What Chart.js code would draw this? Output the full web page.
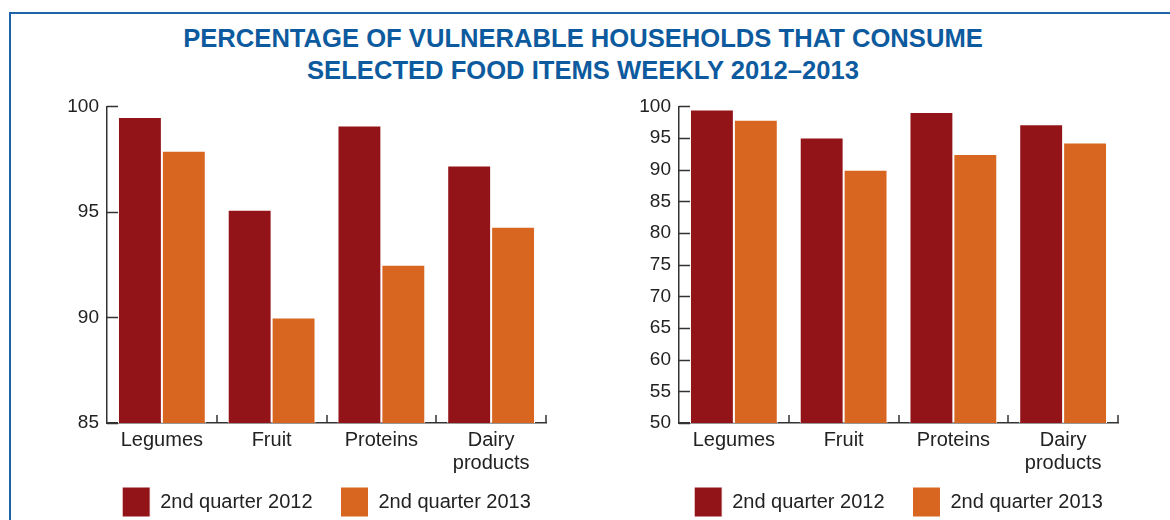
<!DOCTYPE html>
<html lang="en">
<head>
  <meta charset="UTF-8">
  <title>Vulnerable households food consumption</title>
  <script src="https://cdn.jsdelivr.net/npm/chart.js"></script>
  <style>
    body { margin: 0; width: 1170px; height: 520px; background: #fff; position: relative; overflow: hidden; font-family: "Liberation Sans", Arial, sans-serif; }
    .frame { position: absolute; left: 9px; top: 12px; width: 1200px; height: 600px; border-left: 2px solid #1d65a8; border-top: 2px solid #1d65a8; }
    .title { position: absolute; left: 0; width: 1166px; top: 22px; text-align: center; color: #0d5b9e; font-weight: bold; font-size: 25.6px; line-height: 32px; }
    .box { position: absolute; top: 87px; width: 533px; height: 440px; }
  </style>
</head>
<body>
  <div class="frame"></div>
  <div class="title">PERCENTAGE OF VULNERABLE HOUSEHOLDS THAT CONSUME<br>SELECTED FOOD ITEMS WEEKLY 2012–2013</div>

  <div class="box" style="left:60px"><canvas id="leftChart"></canvas></div>
  <div class="box" style="left:632px"><canvas id="rightChart"></canvas></div>

  <script>
    // data
    const categories = ['Legumes', 'Fruit', 'Proteins', ['Dairy', 'products']];
    const seriesNames = ['2nd quarter 2012', '2nd quarter 2013'];
    const q2012 = [99.5, 95.1, 99.1, 97.2];
    const q2013 = [97.9, 90.0, 92.5, 94.3];
    const leftRange = [85, 100];
    const rightRange = [50, 100];
    const tickStep = 5;

    const colors = ['#931418', '#d86621'];
    const textColor = '#222';
    const fontFamily = '"Liberation Sans", Arial, sans-serif';

    // ticks drawn inward, like the original
    const innerTicks = {
      id: 'innerTicks',
      afterLayout(chart) {
        // the x labels run into the legend band, so don't clip them
        chart.scales.x.bottom = chart.scales.x.top + 60;
      },
      afterDatasetsDraw(chart) {
        const { ctx, chartArea, scales } = chart;
        ctx.save();
        ctx.strokeStyle = '#333';
        ctx.lineWidth = 1.5;
        ctx.beginPath();
        scales.y.ticks.forEach((t, i) => {
          const y = Math.round(scales.y.getPixelForTick(i)) + 0.5;
          ctx.moveTo(chartArea.left, y);
          ctx.lineTo(chartArea.left + 11, y);
        });
        for (let i = 1; i <= categories.length; i++) {
          const x = Math.round(scales.x.getPixelForValue(i - 0.5));
          ctx.moveTo(x, chartArea.bottom);
          ctx.lineTo(x, chartArea.bottom - 8);
        }
        ctx.stroke();
        ctx.restore();
      }
    };

    function makeChart(id, range) {
      const ctx = document.getElementById(id).getContext('2d');
      return new Chart(ctx, {
        type: 'bar',
        data: {
          labels: categories,
          datasets: [
            { label: seriesNames[0], data: q2012, backgroundColor: colors[0], borderColor: '#ffffff', borderWidth: 1 },
            { label: seriesNames[1], data: q2013, backgroundColor: colors[1], borderColor: '#ffffff', borderWidth: 1 }
          ]
        },
        options: {
          responsive: true,
          maintainAspectRatio: false,
          animation: false,
          datasets: { bar: { categoryPercentage: 0.8, barPercentage: 1.0 } },
          layout: { padding: { top: 0, right: 0, left: 0, bottom: 0 } },
          plugins: {
            legend: {
              position: 'bottom',
              labels: {
                boxWidth: 28, boxHeight: 30, padding: 28,
                color: textColor,
                font: { family: fontFamily, size: 20 }
              }
            },
            tooltip: { enabled: false }
          },
          scales: {
            x: {
              afterFit(scale) { scale.height = 36; },
              grid: { display: false, drawTicks: false },
              border: { display: true, color: '#333', width: 1.5 },
              ticks: { color: textColor, padding: 6, font: { family: fontFamily, size: 20, lineHeight: 1.15 } }
            },
            y: {
              min: range[0], max: range[1],
              afterFit(scale) { scale.width = 47; },
              grid: { display: false, drawTicks: false },
              border: { display: true, color: '#333', width: 1.5 },
              ticks: { stepSize: tickStep, color: textColor, padding: 8, font: { family: fontFamily, size: 19 } }
            },
            // empty right axis, keeps the plot and legend centred together
            yPad: {
              position: 'right',
              afterFit(scale) { scale.width = 47; },
              grid: { display: false, drawTicks: false },
              border: { display: false },
              ticks: { display: false }
            }
          }
        },
        plugins: [innerTicks]
      });
    }

    makeChart('leftChart', leftRange);
    makeChart('rightChart', rightRange);
  </script>
</body>
</html>
